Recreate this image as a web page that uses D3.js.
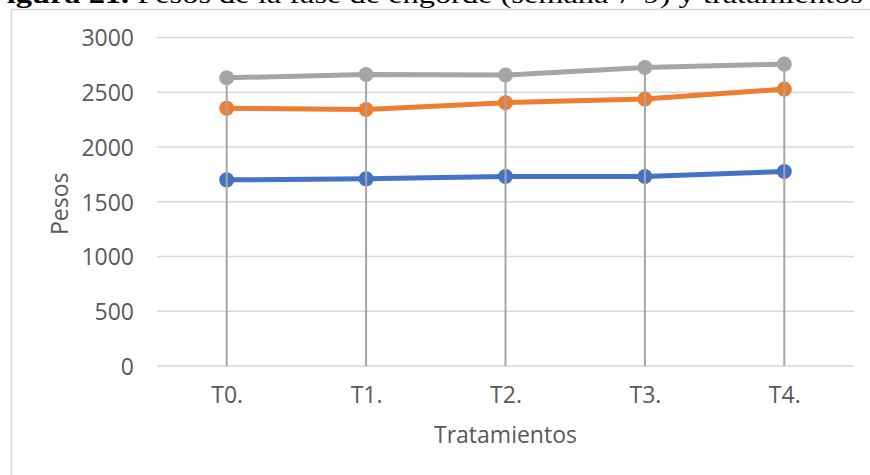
<!DOCTYPE html>
<html>
<head>
<meta charset="utf-8">
<script src="https://cdn.jsdelivr.net/npm/d3@7"></script>
<style>
  html, body { margin: 0; padding: 0; background: #fff; }
  svg { display: block; }
</style>
</head>
<body>
<svg id="chart" width="870" height="475"></svg>
<script>
// Treatments (categories) and body weights per series
const categories = ["T0.", "T1.", "T2.", "T3.", "T4."];
const serieAzul = [1700, 1709, 1730, 1731, 1776];
const serieNaranja = [2355, 2342, 2405, 2438, 2529];
const serieGris = [2632, 2662, 2657, 2727, 2757];
const yTicks = [0, 500, 1000, 1500, 2000, 2500, 3000];

const series = [
  { name: "Serie 1", values: serieAzul, color: "#4472C4" },
  { name: "Serie 2", values: serieNaranja, color: "#ED7D31" },
  { name: "Serie 3", values: serieGris, color: "#A5A5A5" }
];

const svg = d3.select("#chart");
const W = 870, H = 475;
const plot = { left: 157, right: 854, top: 37.5, bottom: 366 };
const textColor = "#595959";
const font = "'Open Sans', 'Noto Sans', sans-serif";
const fs = 23;

// Chart area frame
svg.append("rect")
  .attr("x", 11.5).attr("y", 9.5)
  .attr("width", W + 20).attr("height", H + 20)
  .attr("fill", "#fff")
  .attr("stroke", "#D9D9D9").attr("stroke-width", 1.5);

// Title line above the frame
const title = svg.append("text")
  .attr("x", -13).attr("y", 3)
  .attr("font-family", "'Liberation Serif', 'Times New Roman', serif")
  .attr("font-size", 26)
  .attr("fill", "#000")
  .attr("textLength", 876)
  .attr("lengthAdjust", "spacingAndGlyphs");
title.append("tspan").attr("font-weight", "bold").text("Figura 21.");
title.append("tspan").text(" Pesos de la fase de engorde (semana 7-9) y tratamientos");

const x = d3.scalePoint().domain(categories).range([plot.left, plot.right]).padding(0.5);
const y = d3.scaleLinear().domain([0, 3000]).range([plot.bottom, plot.top]);

// Horizontal gridlines
svg.append("g")
  .selectAll("line")
  .data(yTicks)
  .join("line")
  .attr("x1", plot.left).attr("x2", plot.right)
  .attr("y1", d => y(d)).attr("y2", d => y(d))
  .attr("stroke", "#D9D9D9").attr("stroke-width", 1.5);

// Y axis labels
const yAxis = d3.axisLeft(y).tickValues(yTicks).tickSize(0).tickPadding(0).tickFormat(d3.format("d"));
const gy = svg.append("g").attr("transform", `translate(${plot.left - 23},0)`).call(yAxis);
gy.select(".domain").remove();
gy.selectAll("text")
  .attr("font-family", font).attr("font-size", fs)
  .attr("fill", textColor).attr("dy", "0.36em");

// X axis labels
const xAxis = d3.axisBottom(x).tickSize(0).tickPadding(0);
const gx = svg.append("g").attr("transform", `translate(0,${plot.bottom + 21})`).call(xAxis);
gx.select(".domain").remove();
gx.selectAll("text")
  .attr("font-family", font).attr("font-size", fs)
  .attr("fill", textColor).attr("dy", "0.71em");

// Axis titles
svg.append("text")
  .attr("transform", `translate(68,${(plot.top + plot.bottom) / 2 + 2}) rotate(-90)`)
  .attr("text-anchor", "middle")
  .attr("font-family", font).attr("font-size", fs)
  .attr("fill", textColor)
  .text("Pesos");

svg.append("text")
  .attr("x", (plot.left + plot.right) / 2).attr("y", 443)
  .attr("text-anchor", "middle")
  .attr("font-family", font).attr("font-size", fs)
  .attr("fill", textColor)
  .text("Tratamientos");

// Series lines and markers
const line = d3.line().x((d, i) => x(categories[i])).y(d => y(d));

series.forEach(s => {
  const g = svg.append("g");
  g.append("path")
    .datum(s.values)
    .attr("d", line)
    .attr("fill", "none")
    .attr("stroke", s.color)
    .attr("stroke-width", 5)
    .attr("stroke-linejoin", "round")
    .attr("stroke-linecap", "round");
  g.selectAll("circle")
    .data(s.values)
    .join("circle")
    .attr("cx", (d, i) => x(categories[i]))
    .attr("cy", d => y(d))
    .attr("r", 7.5)
    .attr("fill", s.color);
});

// Drop lines from the highest point of each category down to the axis
const maxima = categories.map((c, i) => d3.max(series, s => s.values[i]));
svg.append("g")
  .selectAll("line")
  .data(maxima)
  .join("line")
  .attr("x1", (d, i) => x(categories[i])).attr("x2", (d, i) => x(categories[i]))
  .attr("y1", d => y(d)).attr("y2", y(0))
  .attr("stroke", "#A5A5A5").attr("stroke-width", 2);
</script>
</body>
</html>
